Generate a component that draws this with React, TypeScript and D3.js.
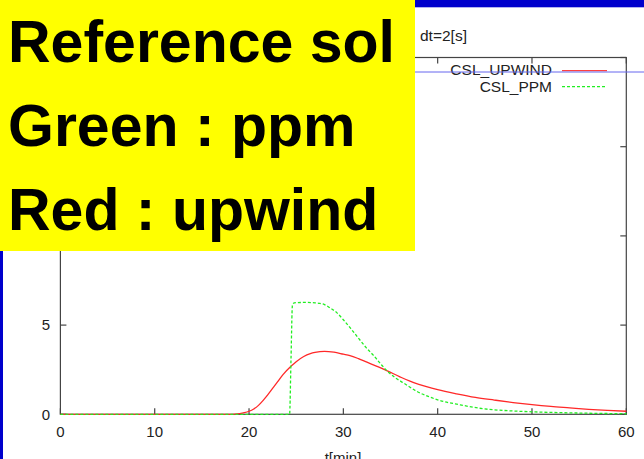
import React from "react";
import * as d3 from "d3";

// Time axis (minutes) and concentration for the two CSL schemes
const upwindT = [0, 18, 18.5, 19, 19.5, 20, 20.5, 21, 21.5, 22, 22.6, 23, 23.6, 24.5, 25, 25.8, 26.5, 27, 28, 29, 30, 30.7, 31.6, 32.5, 33.5, 34.6, 36, 37, 38, 39, 40, 42, 44, 46, 48, 50, 52, 54, 56, 58, 60];
const upwindC = [0, 0, 0.01, 0.04, 0.09, 0.17, 0.3, 0.5, 0.78, 1.1, 1.52, 1.8, 2.22, 2.72, 2.95, 3.24, 3.4, 3.47, 3.53, 3.48, 3.37, 3.29, 3.12, 2.92, 2.7, 2.45, 2.1, 1.87, 1.68, 1.52, 1.38, 1.15, 0.95, 0.8, 0.66, 0.54, 0.44, 0.36, 0.28, 0.22, 0.17];

const ppmT = [0, 24.3, 24.45, 24.6, 24.8, 26, 27, 27.5, 28, 28.6, 29.3, 30, 30.8, 31.6, 32.4, 33.2, 34, 34.6, 35.5, 36.4, 37.8, 39, 40, 42.4, 45, 47.5, 50, 55, 60];
const ppmC = [0, 0, 3.1, 6.1, 6.25, 6.27, 6.25, 6.22, 6.15, 5.96, 5.7, 5.3, 4.8, 4.27, 3.75, 3.3, 2.8, 2.45, 2.05, 1.75, 1.28, 1.0, 0.81, 0.53, 0.3, 0.2, 0.14, 0.07, 0.03];

const xTicks = [0, 10, 20, 30, 40, 50, 60];
const yTicks = [0, 5, 10, 15, 20];
// only the lower y labels sit outside the annotation box
const yLabels = [0, 5];

const seriesNames = ["CSL_UPWIND", "CSL_PPM"];
const overlayLines = ["Reference sol", "Green : ppm", "Red : upwind"];

const W = 644;
const H = 459;
const plot = { left: 60.4, right: 626.3, top: 57.5, bottom: 414.3 };
const FONT = "'Liberation Sans', Arial, Helvetica, sans-serif";
const axisColor = "#444";

export default function App() {
  const x = d3.scaleLinear().domain([0, 60]).range([plot.left, plot.right]);
  const y = d3.scaleLinear().domain([0, 20]).range([plot.bottom, plot.top]);

  const line = d3
    .line<[number, number]>()
    .x((d) => x(d[0]))
    .y((d) => y(d[1]))
    .curve(d3.curveMonotoneX);

  const upwindPath = line(upwindT.map((t, i) => [t, upwindC[i]]) as [number, number][]) || "";
  const ppmPath = line(ppmT.map((t, i) => [t, ppmC[i]]) as [number, number][]) || "";

  const tickLen = 6;

  return (
    <svg
      width={W}
      height={H}
      viewBox={`0 0 ${W} ${H}`}
      style={{ position: "fixed", left: 0, top: 0, display: "block" }}
    >
      <rect x={0} y={0} width={W} height={H} fill="#ffffff" />

      {/* slide frame */}
      <rect x={0} y={0} width={W} height={7.3} fill="#0000cc" />
      <rect x={0} y={0} width={3} height={H} fill="#0000cc" />

      {/* title */}
      <text x={420} y={40.5} fontFamily={FONT} fontSize={15.5} fill="#222">
        dt=2[s]
      </text>

      {/* plot border */}
      <rect
        x={plot.left}
        y={plot.top}
        width={plot.right - plot.left}
        height={plot.bottom - plot.top}
        fill="none"
        stroke={axisColor}
        strokeWidth={1.2}
      />

      {/* x ticks (bottom and top, inward) */}
      {xTicks.map((t) => (
        <g key={`xt${t}`}>
          <line x1={x(t)} x2={x(t)} y1={plot.bottom} y2={plot.bottom - tickLen} stroke={axisColor} strokeWidth={1.2} />
          <line x1={x(t)} x2={x(t)} y1={plot.top} y2={plot.top + tickLen} stroke={axisColor} strokeWidth={1.2} />
          <text x={x(t)} y={437} textAnchor="middle" fontFamily={FONT} fontSize={15} fill="#222">
            {t}
          </text>
        </g>
      ))}

      {/* y ticks (left and right, inward) */}
      {yTicks.map((v) => (
        <g key={`yt${v}`}>
          <line x1={plot.left} x2={plot.left + tickLen} y1={y(v)} y2={y(v)} stroke={axisColor} strokeWidth={1.2} />
          <line x1={plot.right} x2={plot.right - tickLen} y1={y(v)} y2={y(v)} stroke={axisColor} strokeWidth={1.2} />
        </g>
      ))}
      {yLabels.map((v) => (
        <text key={`yl${v}`} x={50} y={y(v)} dy="0.35em" textAnchor="end" fontFamily={FONT} fontSize={15} fill="#222">
          {v}
        </text>
      ))}

      {/* axis label */}
      <text x={343} y={463} textAnchor="middle" fontFamily={FONT} fontSize={15} fill="#222">
        t[min]
      </text>

      {/* series */}
      <path d={upwindPath} fill="none" stroke="#ff2828" strokeWidth={1.3} />
      <path d={ppmPath} fill="none" stroke="#22ee22" strokeWidth={1.3} strokeDasharray="3,2" />

      {/* legend */}
      <text x={552} y={75} textAnchor="end" fontFamily={FONT} fontSize={15.5} fill="#222">
        {seriesNames[0]}
      </text>
      <line x1={562} x2={607} y1={70.7} y2={70.7} stroke="#ff4040" strokeWidth={1.3} />
      <text x={552} y={92} textAnchor="end" fontFamily={FONT} fontSize={15.5} fill="#222">
        {seriesNames[1]}
      </text>
      <line x1={562} x2={607} y1={86.7} y2={86.7} stroke="#22ee22" strokeWidth={1.3} strokeDasharray="3,2" />

      {/* thin guide line across the slide */}
      <line x1={0} x2={W} y1={72} y2={72} stroke="#6666ee" strokeWidth={1} />

      {/* annotation box */}
      <rect x={0} y={0} width={415} height={251} fill="#ffff00" />
      {overlayLines.map((s, i) => (
        <text
          key={s}
          x={8}
          y={62 + i * 84}
          fontFamily={FONT}
          fontWeight="bold"
          fontSize={59}
          fill="#000"
        >
          {s}
        </text>
      ))}
    </svg>
  );
}
